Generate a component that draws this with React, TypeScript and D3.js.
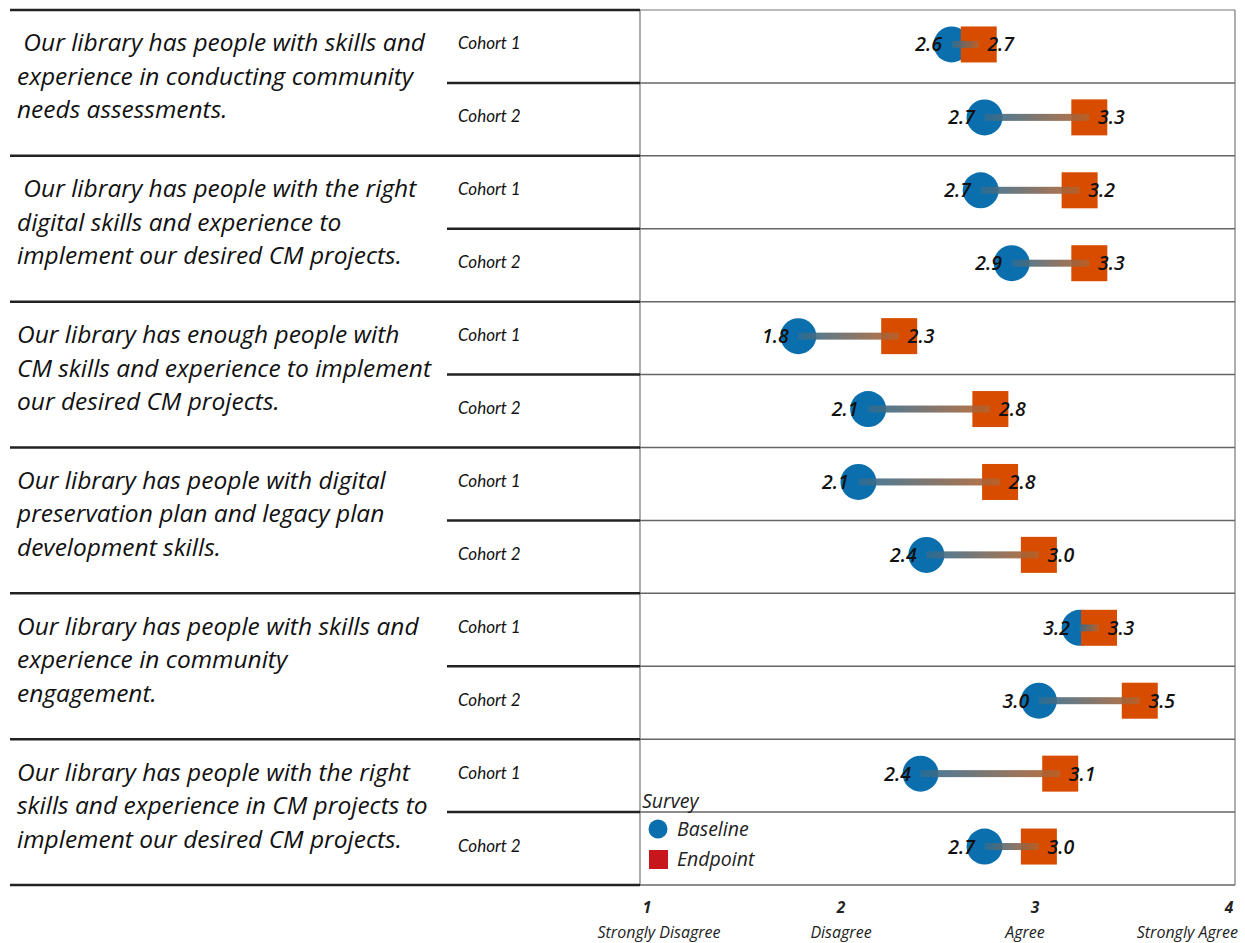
import React from 'react';
import * as d3 from 'd3';

const questions = [
  [' Our library has people with skills and', 'experience in conducting community', 'needs assessments.'],
  [' Our library has people with the right', 'digital skills and experience to', 'implement our desired CM projects.'],
  ['Our library has enough people with', 'CM skills and experience to implement', 'our desired CM projects.'],
  ['Our library has people with digital', 'preservation plan and legacy plan', 'development skills.'],
  ['Our library has people with skills and', 'experience in community', 'engagement.'],
  ['Our library has people with the right', 'skills and experience in CM projects to', 'implement our desired CM projects.'],
];
const cohorts = ['Cohort 1', 'Cohort 2'];
// one entry per question x cohort row, in drawing order
const baseline = [2.57, 2.74, 2.72, 2.88, 1.78, 2.14, 2.09, 2.44, 3.23, 3.02, 2.41, 2.74];
const endpoint = [2.71, 3.28, 3.23, 3.28, 2.30, 2.77, 2.82, 3.02, 3.33, 3.54, 3.13, 3.02];
const tickValues = [1, 2, 3, 4];
const tickLabels = ['Strongly Disagree', 'Disagree', 'Agree', 'Strongly Agree'];

const W = 1245;
const H = 943;
const FONT = '"Open Sans", Lato, sans-serif';
const BLUE = '#0b6fae';
const ORANGE = '#d84c00';

export default function App() {
  const rows = baseline.map((b, i) => ({
    i,
    q: Math.floor(i / 2),
    cohort: cohorts[i % 2],
    base: b,
    end: endpoint[i],
  }));

  const y = d3.scaleBand<number>().domain(rows.map(r => r.i)).range([10, 885]).padding(0);
  const x = d3.scaleLinear().domain([1, 4]).range([647, 1229]);
  const bw = y.bandwidth();
  const plotL = 640;
  const plotR = 1235;

  return (
    <svg width={W} height={H} style={{ position: 'absolute', left: 0, top: 0, background: '#fff' }}
      fontFamily={FONT}>
      <defs>
        <linearGradient id="conn" x1="0" x2="1" y1="0" y2="0">
          <stop offset="0%" stopColor="#2d6d93" />
          <stop offset="100%" stopColor="#b8622b" />
        </linearGradient>
      </defs>

      {/* plot frame */}
      <line x1={plotL} x2={plotL} y1={10} y2={885} stroke="#777" strokeWidth={1.2} />
      <line x1={plotR} x2={plotR} y1={10} y2={885} stroke="#777" strokeWidth={1.2} />
      <line x1={plotL} x2={plotR} y1={10} y2={10} stroke="#777" strokeWidth={1.2} />
      {rows.map(r => (
        <line key={'g' + r.i} x1={plotL} x2={plotR} y1={y(r.i)! + bw} y2={y(r.i)! + bw}
          stroke="#666" strokeWidth={1.5} />
      ))}

      {/* left table rules */}
      <line x1={10} x2={plotL} y1={10} y2={10} stroke="#222" strokeWidth={2.5} />
      {rows.map(r => (
        <line key={'t' + r.i} x1={r.i % 2 === 0 ? 447 : 10} x2={plotL}
          y1={y(r.i)! + bw} y2={y(r.i)! + bw} stroke="#222" strokeWidth={2.5} />
      ))}

      {/* question text */}
      {questions.map((lines, qi) => {
        const cy = y(qi * 2)! + bw - 6;
        return (
          <text key={'q' + qi} fontSize={24.5} fontStyle="italic" fill="#111">
            {lines.map((l, k) => (
              <tspan key={k} x={17} y={cy + (k - 1) * 33.5 + 8} style={{ whiteSpace: 'pre' }}>{l}</tspan>
            ))}
          </text>
        );
      })}

      {/* cohort labels */}
      {rows.map(r => (
        <text key={'c' + r.i} x={458} y={y(r.i)! + bw / 2 + 3} fontSize={17} fontStyle="italic" fill="#111"
          fontFamily='Lato, sans-serif'>
          {r.cohort}
        </text>
      ))}

      {/* marks */}
      {rows.map(r => {
        const cy = y(r.i)! + bw / 2 - 2;
        const xb = x(r.base);
        const xe = x(r.end);
        return (
          <g key={'m' + r.i}>
            <circle cx={xb} cy={cy} r={18} fill={BLUE} />
            <rect x={xe - 18} y={cy - 18} width={36} height={36} fill={ORANGE} />
            <rect x={Math.min(xb, xe)} y={cy - 3.5} width={Math.abs(xe - xb)} height={7}
              fill="url(#conn)" opacity={0.9} />
            <text x={xb - 23} y={cy + 7} textAnchor="middle" fontSize={19.5} fontStyle="italic"
              fontWeight={600} fill="#111">{r.base.toFixed(1)}</text>
            <text x={xe + 22} y={cy + 7} textAnchor="middle" fontSize={19.5} fontStyle="italic"
              fontWeight={600} fill="#111">{r.end.toFixed(1)}</text>
          </g>
        );
      })}

      {/* legend */}
      <text x={642} y={808} fontSize={19.5} fontStyle="italic" fill="#222">Survey</text>
      <circle cx={658} cy={829} r={9.5} fill={BLUE} />
      <text x={677} y={836} fontSize={19.5} fontStyle="italic" fill="#222">Baseline</text>
      <rect x={649} y={850} width={19} height={19} fill="#c8171c" />
      <text x={677} y={866} fontSize={19.5} fontStyle="italic" fill="#222">Endpoint</text>

      {/* x axis */}
      {tickValues.map((t, k) => (
        <g key={'x' + t}>
          <text x={x(t)} y={913} textAnchor="middle" fontSize={15.5} fontStyle="italic" fontWeight={700}
            fill="#222">{t}</text>
          <text x={k === 3 ? 1238 : x(t) + (k === 0 ? 12 : k === 2 ? -10 : 0)} y={938}
            textAnchor={k === 3 ? 'end' : 'middle'} fontSize={16}
            fontStyle="italic" fill="#222">{tickLabels[k]}</text>
        </g>
      ))}
    </svg>
  );
}
